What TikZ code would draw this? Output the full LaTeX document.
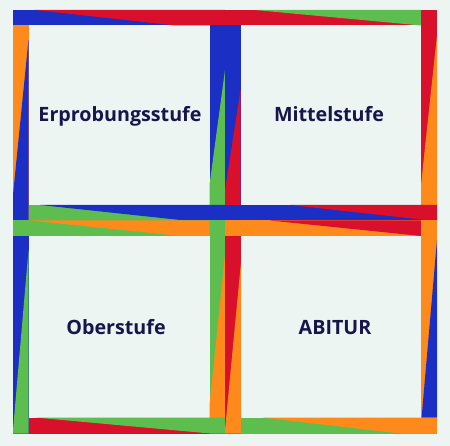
\documentclass[tikz,border=0pt]{standalone}
\usepackage{fontspec}
\setmainfont{Open Sans}
\definecolor{cbg}{HTML}{ECF5F2}
\definecolor{cblue}{HTML}{1B2FC4}
\definecolor{cred}{HTML}{D9102B}
\definecolor{cgreen}{HTML}{5DBE4F}
\definecolor{corange}{HTML}{FD8A1B}
\definecolor{ctext}{HTML}{15164A}
\begin{document}
\begin{tikzpicture}[x=1pt,y=-1pt,
  lbl/.style={font=\bfseries\fontsize{19.7}{24}\selectfont, text=ctext, anchor=base},
  b/.style={fill=cblue}, r/.style={fill=cred}, g/.style={fill=cgreen}, o/.style={fill=corange}]
\fill[cbg] (0,0) rectangle (450,446);
\useasboundingbox (0,0) rectangle (450,446);
% ---- top left square
\fill[b] (13,10) rectangle (225,25.5);
\fill[r] (35,10) -- (225,10) -- (225,25.5) -- (175,25.5) -- cycle;
\fill[o] (13,25.5) rectangle (28.5,220.5);
\fill[b] (28.5,40) -- (28.5,220.5) -- (13,220.5) -- (13,195) -- cycle;
\fill[b] (209.5,25.5) rectangle (225,205);
\fill[g] (225,70) -- (225,205) -- (209.5,205) -- (209.5,185) -- cycle;
\fill[g] (28.5,205) rectangle (225,220.5);
\fill[b] (40,205) -- (225,205) -- (225,220.5) -- (185,220.5) -- cycle;
% ---- top right square
\fill[r] (225,10) rectangle (421,25.5);
\fill[g] (255,10) -- (421,10) -- (421,25.5) -- cycle;
\fill[b] (225,25.5) rectangle (240.5,205);
\fill[r] (240.5,90) -- (240.5,205) -- (225,205) -- (225,190) -- cycle;
\fill[r] (421,10) rectangle (437,205);
\fill[o] (437,35) -- (437,205) -- (421,205) -- (421,185) -- cycle;
\fill[b] (225,205) rectangle (437,220.5);
\fill[r] (290,205) -- (437,205) -- (437,220.5) -- (430,220.5) -- cycle;
% ---- bottom left square
\fill[g] (13,220.5) rectangle (209.5,236);
\fill[o] (30,220.5) -- (209.5,220.5) -- (209.5,236) -- (180,236) -- cycle;
\fill[b] (13,236) rectangle (28.5,433.5);
\fill[g] (28.5,250) -- (28.5,433.5) -- (13,433.5) -- (13,430) -- cycle;
\fill[g] (209.5,220.5) rectangle (225,417.5);
\fill[o] (225,255) -- (225,417.5) -- (209.5,417.5) -- (209.5,405) -- cycle;
\fill[r] (28.5,417.5) rectangle (225,433.5);
\fill[g] (35,417.5) -- (225,417.5) -- (225,433.5) -- (210,433.5) -- cycle;
% ---- bottom right square
\fill[o] (225,220.5) rectangle (421,236);
\fill[r] (270,220.5) -- (421,220.5) -- (421,236) -- cycle;
\fill[o] (421,220.5) rectangle (437,417.5);
\fill[b] (437,240) -- (437,417.5) -- (421.6,417.5) -- cycle;
\fill[r] (225,236) rectangle (241,433.5);
\fill[o] (241,262) -- (241,433.5) -- (225,433.5) -- (225,430) -- cycle;
\fill[g] (241,417.5) rectangle (437,433.5);
\fill[o] (262,417.5) -- (437,417.5) -- (437,433.5) -- (400,433.5) -- cycle;
% ---- labels
\node[lbl] (t1) at (120,122) {Erprobungsstufe};
\node[lbl] (t2) at (329,122) {Mittelstufe};
\node[lbl] (t3) at (116,335) {Oberstufe};
\node[lbl] (t4) at (335,335) {ABITUR};
\end{tikzpicture}
\end{document}
